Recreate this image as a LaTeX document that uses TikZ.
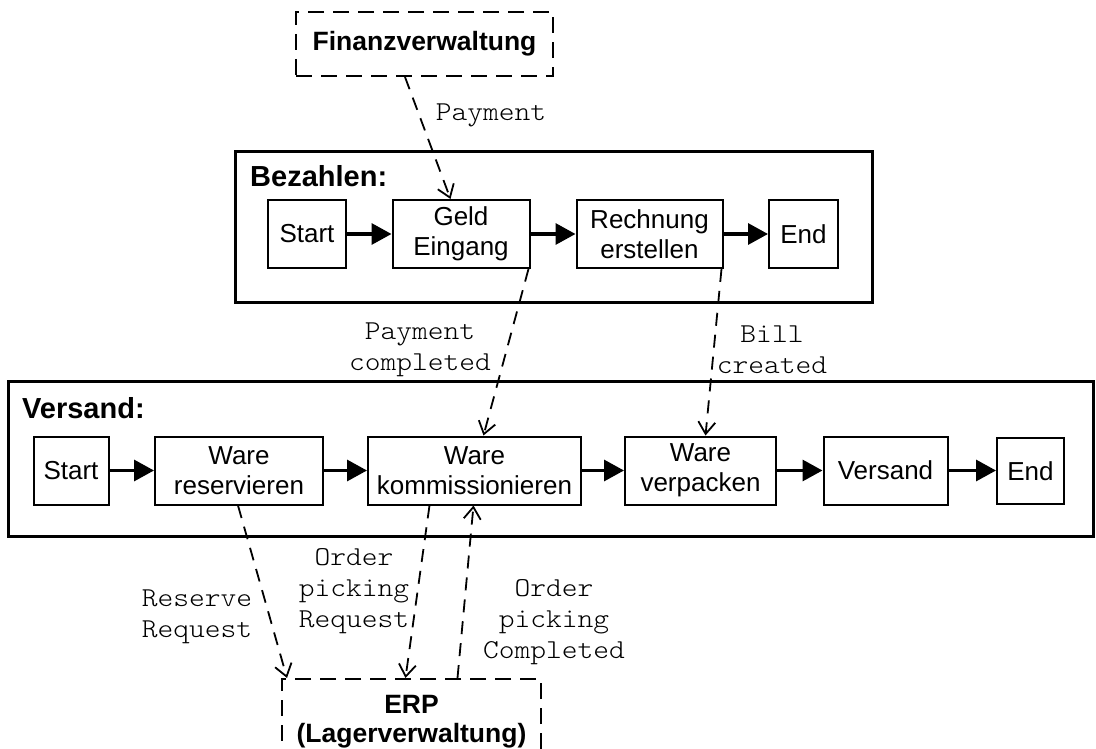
\documentclass[tikz,border=0pt]{standalone}
\usepackage{fontspec}
\setmainfont{Liberation Sans}
\newfontfamily\msgfont[FakeStretch=1.1]{Latin Modern Mono Light}
\usetikzlibrary{arrows.meta}

\begin{document}
\begin{tikzpicture}[x=1pt,y=-1pt,
  task/.style={draw, line width=2pt, inner sep=0pt, align=center,
    font=\fontsize{26}{30}\selectfont},
  lane/.style={draw, line width=3pt},
  ext/.style={draw, line width=2pt, dash pattern=on 16pt off 9pt, inner sep=0pt,
    align=center, font=\bfseries\fontsize{26.5}{29}\selectfont},
  flow/.style={line width=3.3pt, -{Triangle[length=20pt,width=21pt]}},
  msg/.style={line width=1.8pt, dash pattern=on 13pt off 9pt,
    -{Straight Barb[length=12pt,width=17pt,line width=1.8pt]}},
  lbl/.style={font=\msgfont\fontsize{27.3}{31}\selectfont, align=center, inner sep=0pt},
  lanetitle/.style={font=\bfseries\fontsize{29}{32}\selectfont, inner sep=0pt, anchor=base west}
]
\clip (0,0) rectangle (1096,749);
\fill[white] (0,0) rectangle (1096,749);

% external participants
\node[ext, minimum width=257pt, minimum height=64pt] (fin) at (424.5,44) {Finanzverwaltung};
\node[ext, anchor=north, minimum width=259pt, minimum height=86pt] (erp) at (411.5,678)
  {ERP\\(Lagerverwaltung)};

% pool: Bezahlen
\draw[lane] (235,152) rectangle (872,302);
\node[lanetitle] (tBez) at (250,187) {Bezahlen:};
\node[task, minimum width=78pt,  minimum height=68pt] (bStart) at (307,234) {Start};
\node[task, minimum width=137pt, minimum height=68pt] (bGeld)  at (461,234) {Geld\\Eingang};
\node[task, minimum width=146pt, minimum height=68pt] (bRech)  at (649.5,234) {Rechnung\\erstellen};
\node[task, minimum width=69pt,  minimum height=68pt] (bEnd)   at (803.5,234) {End};
\draw[flow] (bStart) -- (bGeld);
\draw[flow] (bGeld) -- (bRech);
\draw[flow] (bRech) -- (bEnd);

% pool: Versand
\draw[lane] (8,381) rectangle (1093,536);
\node[lanetitle] (tVer) at (22,418) {Versand:};
\node[task, minimum width=75pt,  minimum height=68pt] (vStart) at (71,470.5)  {Start};
\node[task, minimum width=168pt, minimum height=68pt] (vRes)   at (239,470.5) {Ware\\reservieren};
\node[task, minimum width=213pt, minimum height=68pt] (vKomm)  at (474.5,470.5) {Ware\\kommissionieren};
\node[task, minimum width=151pt, minimum height=68pt] (vVerp)  at (700.5,470.5) {Ware\\verpacken};
\node[task, minimum width=124pt, minimum height=68pt] (vVers)  at (885.5,470.5) {Versand};
\node[task, minimum width=67pt,  minimum height=66pt] (vEnd)   at (1030.5,471) {End};
\draw[flow] (vStart) -- (vRes);
\draw[flow] (vRes) -- (vKomm);
\draw[flow] (vKomm) -- (vVerp);
\draw[flow] (vVerp) -- (vVers);
\draw[flow] (vVers.east) -- (vVers.east -| vEnd.west);

% message flows
\draw[msg] ([xshift=-19.5pt]fin.south) -- ([xshift=-10.5pt]bGeld.north);
\draw[msg] ([xshift=-2pt]bGeld.south east) -- ([xshift=9pt]vKomm.north);
\draw[msg] ([xshift=-2pt]bRech.south east) -- ([xshift=5pt]vVerp.north);
\draw[msg] ([xshift=-1pt]vRes.south) -- ([xshift=6pt]erp.north west);
\draw[msg] ([xshift=-45pt]vKomm.south) -- ([xshift=-6pt]erp.north);
\draw[msg] ([xshift=46pt]erp.north) -- ([xshift=-1pt]vKomm.south);

% message labels
\node[lbl] (lPay)  at (491,115) {Payment};
\node[lbl] (lPayC) at (420,350) {Payment\\completed};
\node[lbl] (lBill) at (772,350) {Bill\\created};
\node[lbl] (lRes)  at (197,617) {Reserve\\Request};
\node[lbl] (lOPR)  at (354,591) {Order\\picking\\Request};
\node[lbl] (lOPC)  at (554,622) {Order\\picking\\Completed};
\end{tikzpicture}
\end{document}
